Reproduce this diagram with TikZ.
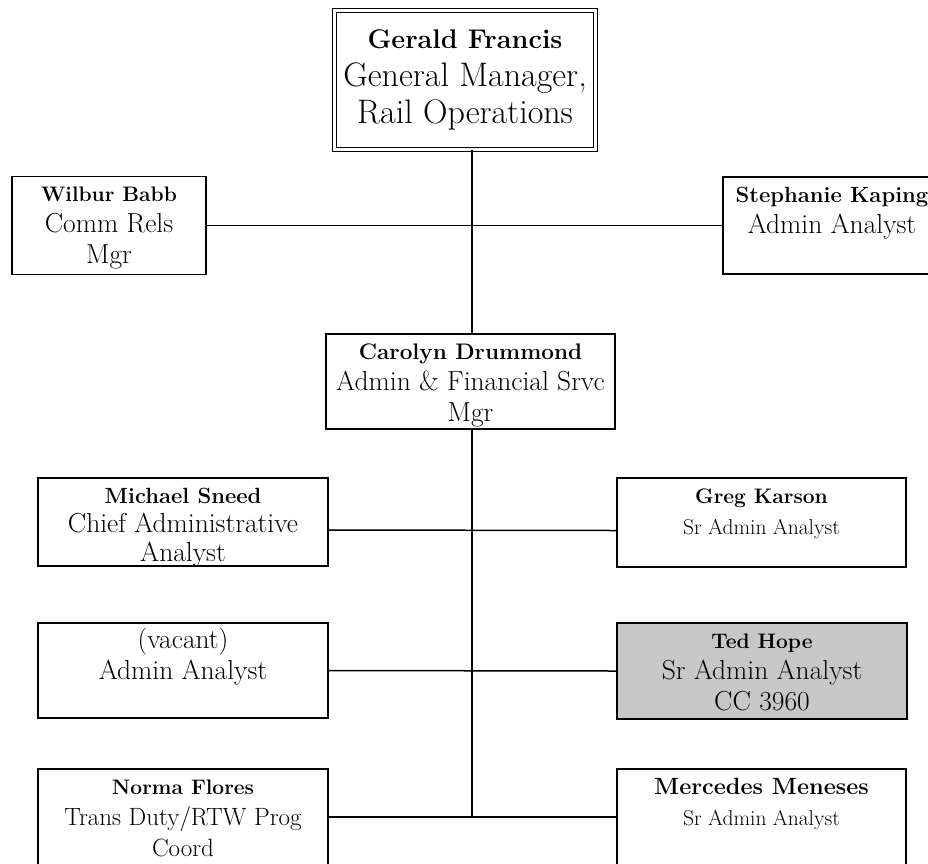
\documentclass[tikz,border=0pt]{standalone}

\newcommand{\card}[3]{\parbox[c][#2][t]{#1}{\centering\rule{0pt}{25pt}#3}}
\newcommand{\who}[2][21]{{\fontsize{#1}{31}\selectfont\bfseries #2}}

\tikzset{
  post/.style={draw, line width=1.3pt, inner sep=0pt, font=\fontsize{27.5}{31}\selectfont},
  chief/.style={draw, double, double distance=2.6pt, line width=1pt, inner sep=0pt,
    align=center, minimum width=261pt, minimum height=139pt, font=\fontsize{34}{37.5}\selectfont},
  shaded/.style={post, fill=black!22},
  link/.style={line width=1.5pt}
}

\begin{document}
\begin{tikzpicture}[x=1pt,y=-1pt]
\useasboundingbox (0,0) rectangle (928,863);

% Direction
\node[chief] (gerald) at (465,80)
  {{\fontsize{27}{37.5}\selectfont\bfseries Gerald Francis}\\ General Manager,\\ Rail Operations};
\node[post] (wilbur) at (109,225.5) {\card{194pt}{98pt}{\who{Wilbur Babb}\\ Comm Rels\\ Mgr}};
\node[post] (stephanie) at (832,225.5) {\card{218pt}{97pt}{\who[22]{Stephanie Kaping}\\ Admin Analyst}};
\node[post] (carolyn) at (470.5,381.5)
  {\card{289pt}{95pt}{\who[22.5]{Carolyn Drummond}\\ Admin \& Financial Srvc\\ Mgr}};

% Analystes
\node[post, font=\fontsize{27.5}{29}\selectfont] (sneed) at (183,522)
  {\card{290pt}{88pt}{\who[22]{Michael Sneed}\\ Chief Administrative\\ Analyst}};
\node[post, font=\fontsize{21.5}{31}\selectfont] (karson) at (761.5,522.5)
  {\card{289pt}{89pt}{\who{Greg Karson}\\ Sr Admin Analyst}};
\node[post] (vacant) at (183,670.5) {\card{290pt}{95pt}{(vacant)\\ Admin Analyst}};
\node[shaded] (hope) at (762,671)
  {\card{290pt}{96pt}{\who{Ted Hope}\\ Sr Admin Analyst\\ CC 3960}};
\node[post, font=\fontsize{25}{31}\selectfont] (flores) at (183,817)
  {\card{290pt}{96pt}{\who{Norma Flores}\\ Trans Duty/RTW Prog\\ Coord}};
\node[post, font=\fontsize{21.5}{31}\selectfont] (meneses) at (761.5,817)
  {\card{289pt}{96pt}{\who[23.5]{Mercedes Meneses}\\ Sr Admin Analyst}};

% Liaisons
\coordinate (spine) at (472,0);
\draw[link] (gerald.south -| spine) -- (carolyn.north -| spine);
\draw[link] (wilbur.east) -- (stephanie.west);
\draw[link] (carolyn.south -| spine) -- (spine |- flores.east);
\draw[link] ([yshift=-8pt]sneed.east) -- ([yshift=-8pt]karson.west);
\draw[link] (vacant.east) -- (hope.west);
\draw[link] (flores.east) -- (meneses.west);

\end{tikzpicture}
\end{document}
